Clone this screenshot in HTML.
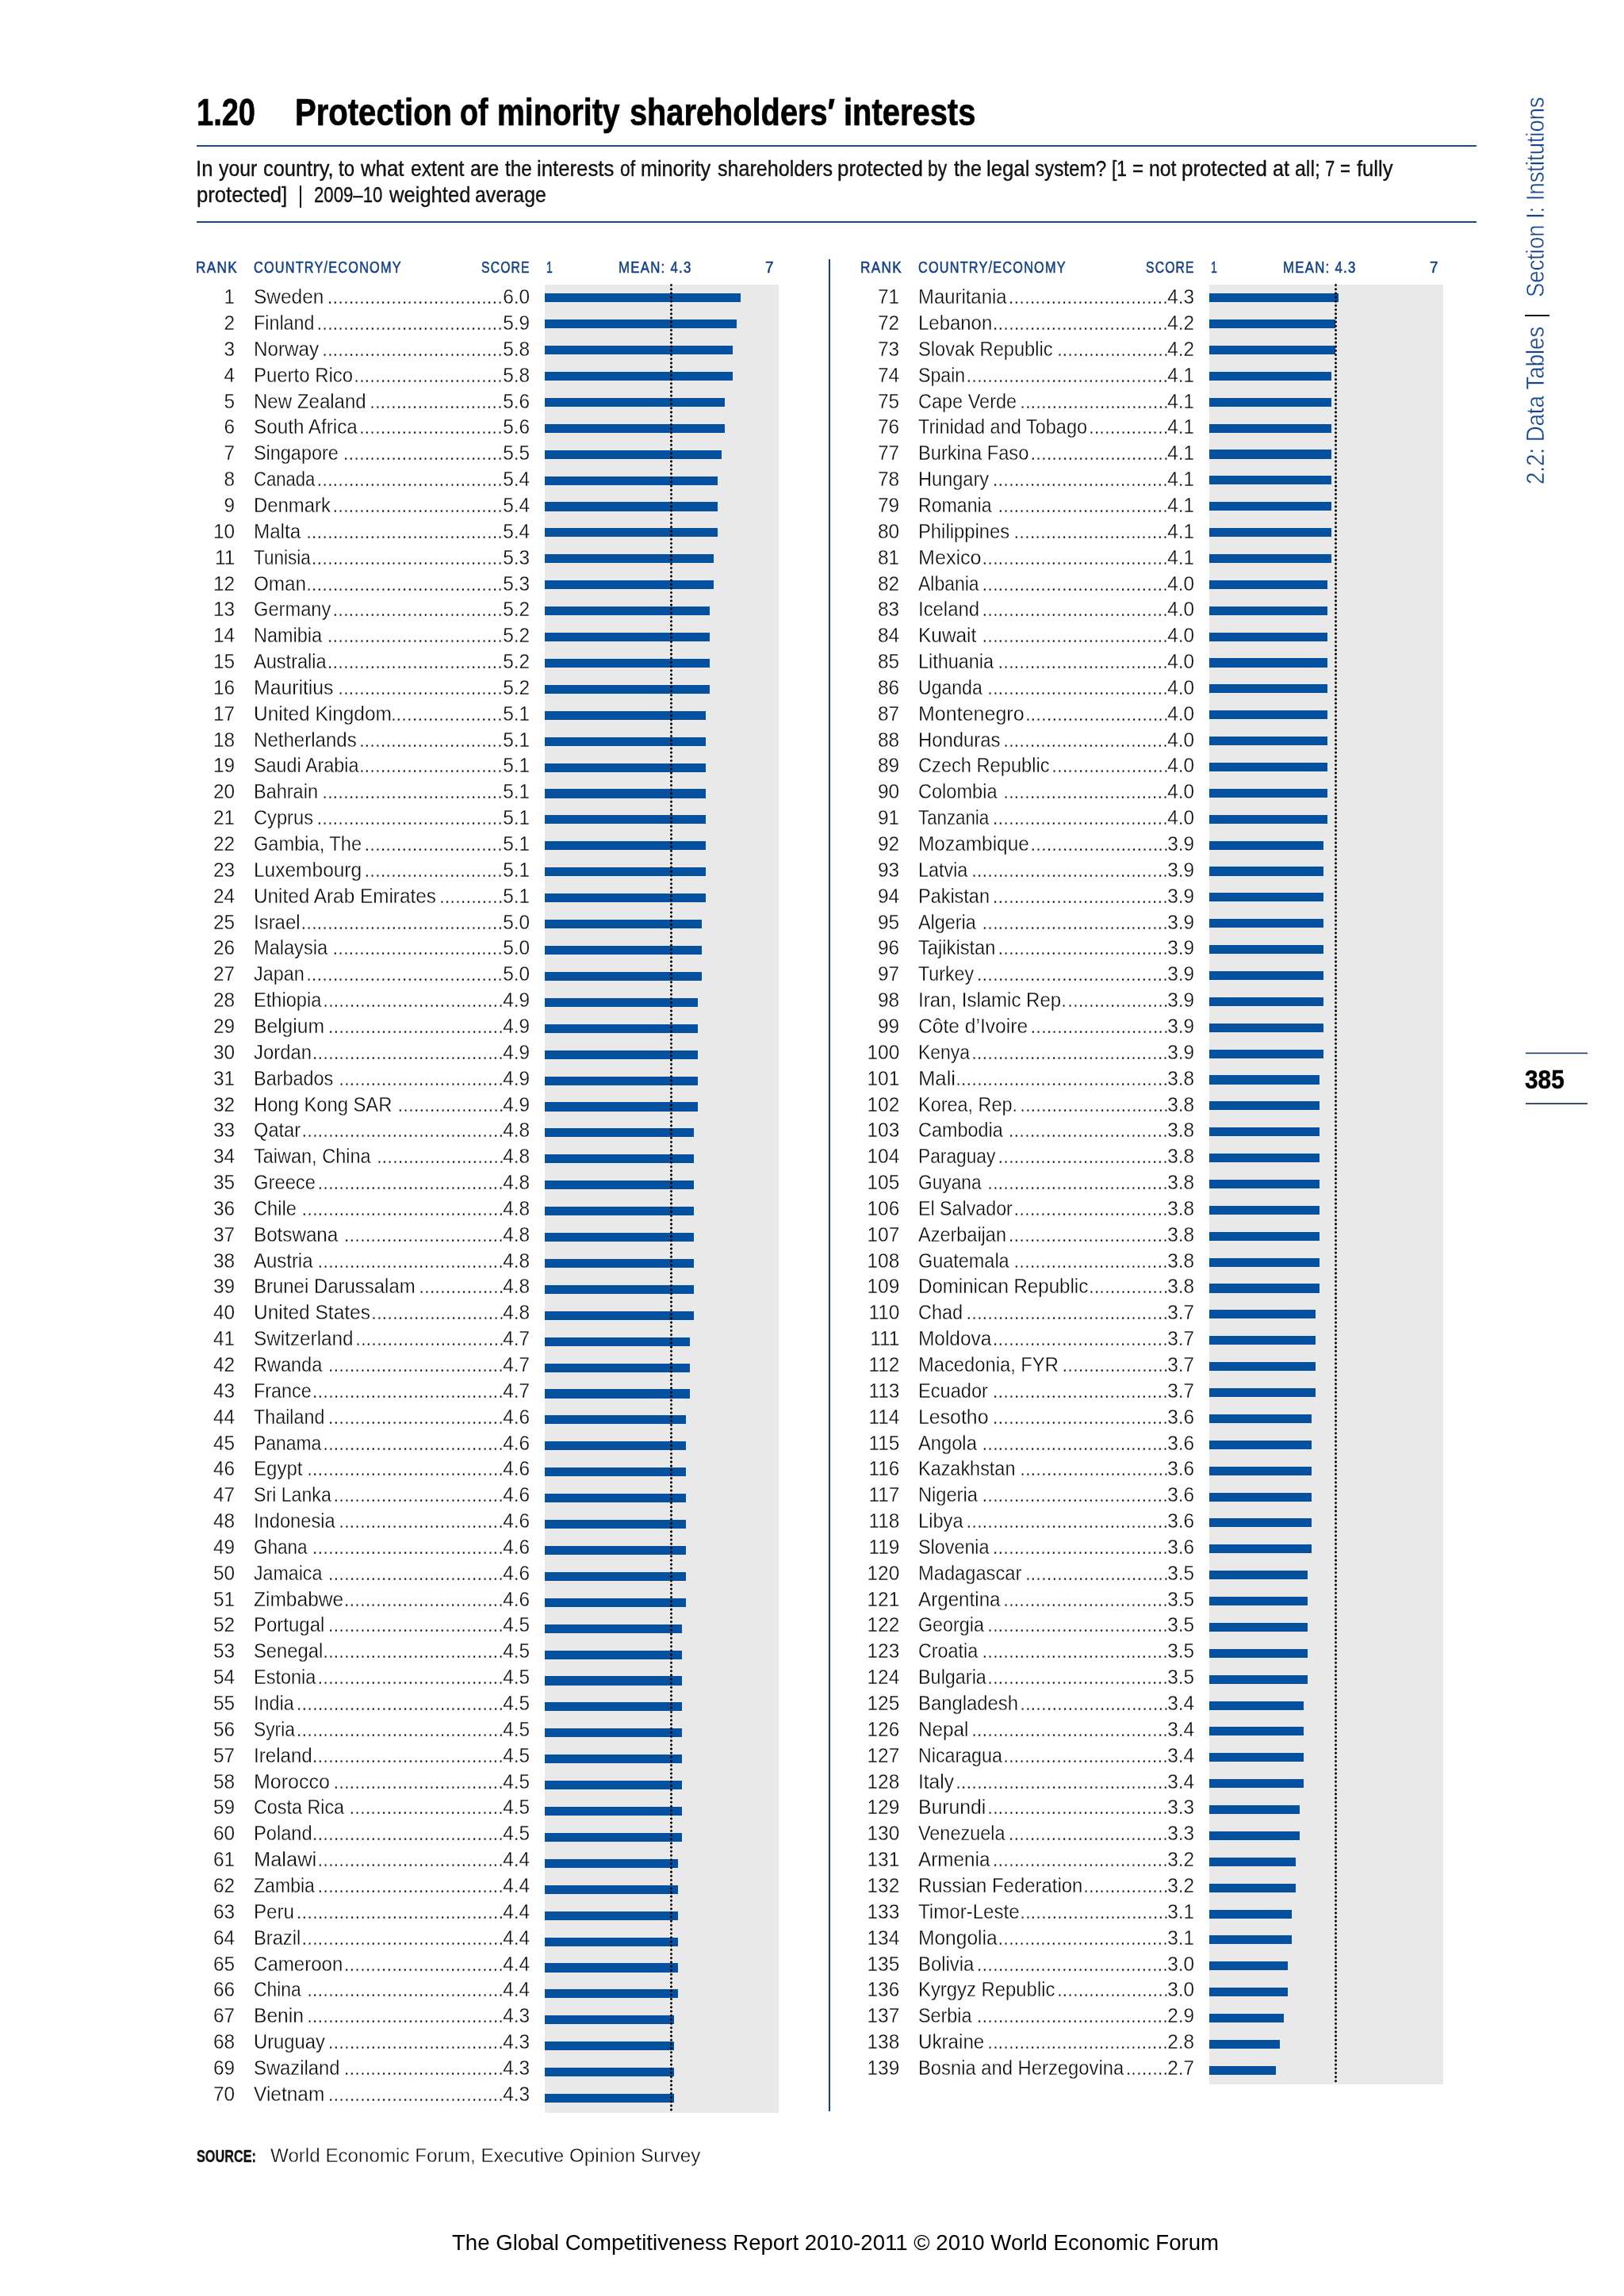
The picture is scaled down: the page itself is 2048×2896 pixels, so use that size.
<!DOCTYPE html>
<html><head><meta charset="utf-8"><title>1.20 Protection of minority shareholders’ interests</title>
<style>
html,body{margin:0;padding:0;}
body{width:2048px;height:2896px;position:relative;background:#fff;overflow:hidden;font-family:"Liberation Sans",sans-serif;}
.t{position:absolute;white-space:nowrap;display:block;}
.b{position:absolute;}
.row{position:absolute;left:0;height:25.3px;font-size:25.3px;line-height:25.3px;color:#0a0a0a;white-space:nowrap;}
.row span{position:absolute;top:0;display:block;}
.bar{position:absolute;height:11.10px;background:#05509f;}
.lt{-webkit-text-stroke:0.3px #fff;}
#w{position:absolute;left:0;top:0;width:2048px;height:2896px;will-change:transform;}
</style></head><body><div id="w">

<span class="t" style="top:118.36px;font-size:47.3px;line-height:47.3px;color:#000;font-weight:bold;left:247.62px;transform:scale(0.8033,1.0);transform-origin:0 84.65%;-webkit-text-stroke:0.7px #000;">1.20</span>
<span class="t" style="top:118.36px;font-size:47.3px;line-height:47.3px;color:#000;font-weight:bold;left:372.10px;transform:scale(0.847,1.0);transform-origin:0 84.65%;-webkit-text-stroke:0.7px #000;">Protection</span>
<span class="t" style="top:118.36px;font-size:47.3px;line-height:47.3px;color:#000;font-weight:bold;left:580.40px;transform:scale(0.7943,1.0);transform-origin:0 84.65%;-webkit-text-stroke:0.7px #000;">of</span>
<span class="t" style="top:118.36px;font-size:47.3px;line-height:47.3px;color:#000;font-weight:bold;left:627.35px;transform:scale(0.8282,1.0);transform-origin:0 84.65%;-webkit-text-stroke:0.7px #000;">minority</span>
<span class="t" style="top:118.36px;font-size:47.3px;line-height:47.3px;color:#000;font-weight:bold;left:793.71px;transform:scale(0.8401,1.0);transform-origin:0 84.65%;-webkit-text-stroke:0.7px #000;">shareholders′</span>
<span class="t" style="top:118.36px;font-size:47.3px;line-height:47.3px;color:#000;font-weight:bold;left:1064.21px;transform:scale(0.8436,1.0);transform-origin:0 84.65%;-webkit-text-stroke:0.7px #000;">interests</span>
<div class="b" style="left:248px;top:183px;width:1614px;height:2px;background:#25498d"></div>
<div class="b" style="left:248px;top:279px;width:1614px;height:2px;background:#21458a"></div>
<span class="t" style="top:199.08px;font-size:27.2px;line-height:27.2px;color:#111;left:247.43px;transform:scale(0.9462,1.0);transform-origin:0 84.65%;-webkit-text-stroke:0.35px #111;">In</span>
<span class="t" style="top:199.08px;font-size:27.2px;line-height:27.2px;color:#111;left:276.23px;transform:scale(0.9115,1.0);transform-origin:0 84.65%;-webkit-text-stroke:0.35px #111;">your</span>
<span class="t" style="top:199.08px;font-size:27.2px;line-height:27.2px;color:#111;left:332.03px;transform:scale(0.9347,1.0);transform-origin:0 84.65%;-webkit-text-stroke:0.35px #111;">country,</span>
<span class="t" style="top:199.08px;font-size:27.2px;line-height:27.2px;color:#111;left:427.09px;transform:scale(0.8861,1.0);transform-origin:0 84.65%;-webkit-text-stroke:0.35px #111;">to</span>
<span class="t" style="top:199.08px;font-size:27.2px;line-height:27.2px;color:#111;left:455.35px;transform:scale(0.9484,1.0);transform-origin:0 84.65%;-webkit-text-stroke:0.35px #111;">what</span>
<span class="t" style="top:199.08px;font-size:27.2px;line-height:27.2px;color:#111;left:517.76px;transform:scale(0.9085,1.0);transform-origin:0 84.65%;-webkit-text-stroke:0.35px #111;">extent</span>
<span class="t" style="top:199.08px;font-size:27.2px;line-height:27.2px;color:#111;left:592.94px;transform:scale(0.9245,1.0);transform-origin:0 84.65%;-webkit-text-stroke:0.35px #111;">are</span>
<span class="t" style="top:199.08px;font-size:27.2px;line-height:27.2px;color:#111;left:636.88px;transform:scale(0.8984,1.0);transform-origin:0 84.65%;-webkit-text-stroke:0.35px #111;">the</span>
<span class="t" style="top:199.08px;font-size:27.2px;line-height:27.2px;color:#111;left:677.18px;transform:scale(0.9471,1.0);transform-origin:0 84.65%;-webkit-text-stroke:0.35px #111;">interests</span>
<span class="t" style="top:199.08px;font-size:27.2px;line-height:27.2px;color:#111;left:781.84px;transform:scale(0.837,1.0);transform-origin:0 84.65%;-webkit-text-stroke:0.35px #111;">of</span>
<span class="t" style="top:199.08px;font-size:27.2px;line-height:27.2px;color:#111;left:808.31px;transform:scale(0.9269,1.0);transform-origin:0 84.65%;-webkit-text-stroke:0.35px #111;">minority</span>
<span class="t" style="top:199.08px;font-size:27.2px;line-height:27.2px;color:#111;left:904.90px;transform:scale(0.9225,1.0);transform-origin:0 84.65%;-webkit-text-stroke:0.35px #111;">shareholders</span>
<span class="t" style="top:199.08px;font-size:27.2px;line-height:27.2px;color:#111;left:1056.47px;transform:scale(0.951,1.0);transform-origin:0 84.65%;-webkit-text-stroke:0.35px #111;">protected</span>
<span class="t" style="top:199.08px;font-size:27.2px;line-height:27.2px;color:#111;left:1170.27px;transform:scale(0.8393,1.0);transform-origin:0 84.65%;-webkit-text-stroke:0.35px #111;">by</span>
<span class="t" style="top:199.08px;font-size:27.2px;line-height:27.2px;color:#111;left:1203.07px;transform:scale(0.926,1.0);transform-origin:0 84.65%;-webkit-text-stroke:0.35px #111;">the</span>
<span class="t" style="top:199.08px;font-size:27.2px;line-height:27.2px;color:#111;left:1244.38px;transform:scale(0.947,1.0);transform-origin:0 84.65%;-webkit-text-stroke:0.35px #111;">legal</span>
<span class="t" style="top:199.08px;font-size:27.2px;line-height:27.2px;color:#111;left:1305.42px;transform:scale(0.8912,1.0);transform-origin:0 84.65%;-webkit-text-stroke:0.35px #111;">system?</span>
<span class="t" style="top:199.08px;font-size:27.2px;line-height:27.2px;color:#111;left:1402.25px;transform:scale(0.8425,1.0);transform-origin:0 84.65%;-webkit-text-stroke:0.35px #111;">[1</span>
<span class="t" style="top:199.08px;font-size:27.2px;line-height:27.2px;color:#111;left:1428.24px;transform:scale(0.8869,1.0);transform-origin:0 84.65%;-webkit-text-stroke:0.35px #111;">=</span>
<span class="t" style="top:199.08px;font-size:27.2px;line-height:27.2px;color:#111;left:1448.64px;transform:scale(0.9114,1.0);transform-origin:0 84.65%;-webkit-text-stroke:0.35px #111;">not</span>
<span class="t" style="top:199.08px;font-size:27.2px;line-height:27.2px;color:#111;left:1490.27px;transform:scale(0.951,1.0);transform-origin:0 84.65%;-webkit-text-stroke:0.35px #111;">protected</span>
<span class="t" style="top:199.08px;font-size:27.2px;line-height:27.2px;color:#111;left:1604.55px;transform:scale(0.9226,1.0);transform-origin:0 84.65%;-webkit-text-stroke:0.35px #111;">at</span>
<span class="t" style="top:199.08px;font-size:27.2px;line-height:27.2px;color:#111;left:1633.35px;transform:scale(0.9175,1.0);transform-origin:0 84.65%;-webkit-text-stroke:0.35px #111;">all;</span>
<span class="t" style="top:199.08px;font-size:27.2px;line-height:27.2px;color:#111;left:1671.04px;transform:scale(0.8161,1.0);transform-origin:0 84.65%;-webkit-text-stroke:0.35px #111;">7</span>
<span class="t" style="top:199.08px;font-size:27.2px;line-height:27.2px;color:#111;left:1690.24px;transform:scale(0.8187,1.0);transform-origin:0 84.65%;-webkit-text-stroke:0.35px #111;">=</span>
<span class="t" style="top:199.08px;font-size:27.2px;line-height:27.2px;color:#111;left:1710.87px;transform:scale(0.9415,1.0);transform-origin:0 84.65%;-webkit-text-stroke:0.35px #111;">fully</span>
<span class="t" style="top:231.58px;font-size:27.2px;line-height:27.2px;color:#111;left:248.13px;transform:scale(0.9443,1.0);transform-origin:0 84.65%;-webkit-text-stroke:0.35px #111;">protected]</span>
<div class="b" style="left:377.9px;top:234.2px;width:2.2px;height:27.6px;background:#111"></div>
<span class="t" style="top:231.58px;font-size:27.2px;line-height:27.2px;color:#111;left:395.94px;transform:scale(0.8155,1.0);transform-origin:0 84.65%;-webkit-text-stroke:0.35px #111;">2009–10</span>
<span class="t" style="top:231.58px;font-size:27.2px;line-height:27.2px;color:#111;left:490.55px;transform:scale(0.9408,1.0);transform-origin:0 84.65%;-webkit-text-stroke:0.35px #111;">weighted</span>
<span class="t" style="top:231.58px;font-size:27.2px;line-height:27.2px;color:#111;left:599.36px;transform:scale(0.9144,1.0);transform-origin:0 84.65%;-webkit-text-stroke:0.35px #111;">average</span>
<span class="t" style="top:326.57px;font-size:20px;line-height:20px;color:#15408a;letter-spacing:1.5px;left:247.27px;transform:scale(0.8608,1.0);transform-origin:0 84.65%;-webkit-text-stroke:0.55px #15408a;">RANK</span>
<span class="t" style="top:326.57px;font-size:20px;line-height:20px;color:#15408a;letter-spacing:1.5px;left:320.04px;transform:scale(0.8123,1.0);transform-origin:0 84.65%;-webkit-text-stroke:0.55px #15408a;">COUNTRY/ECONOMY</span>
<span class="t" style="top:326.57px;font-size:20px;line-height:20px;color:#15408a;letter-spacing:1.5px;left:607.14px;transform:scale(0.7851,1.0);transform-origin:0 84.65%;-webkit-text-stroke:0.55px #15408a;">SCORE</span>
<span class="t" style="top:326.57px;font-size:20px;line-height:20px;color:#15408a;left:689.30px;transform:scale(0.7011,1.0);transform-origin:0 84.65%;-webkit-text-stroke:0.55px #15408a;">1</span>
<span class="t" style="top:326.57px;font-size:20px;line-height:20px;color:#15408a;letter-spacing:1.5px;left:780.31px;transform:scale(0.8401,1.0);transform-origin:0 84.65%;-webkit-text-stroke:0.55px #15408a;">MEAN:&nbsp;4.3</span>
<span class="t" style="top:326.57px;font-size:20px;line-height:20px;color:#15408a;left:964.90px;transform:scale(0.9451,1.0);transform-origin:0 84.65%;-webkit-text-stroke:0.55px #15408a;">7</span>
<div class="b" style="left:687.00px;top:359.2px;width:294.6px;height:2305.40px;background:#eae9ea"></div>
<div class="bar" style="left:687.00px;top:370.20px;width:247.25px"></div>
<div class="bar" style="left:687.00px;top:403.11px;width:242.31px"></div>
<div class="bar" style="left:687.00px;top:436.02px;width:237.36px"></div>
<div class="bar" style="left:687.00px;top:468.93px;width:237.36px"></div>
<div class="bar" style="left:687.00px;top:501.84px;width:227.47px"></div>
<div class="bar" style="left:687.00px;top:534.75px;width:227.47px"></div>
<div class="bar" style="left:687.00px;top:567.66px;width:222.53px"></div>
<div class="bar" style="left:687.00px;top:600.57px;width:217.58px"></div>
<div class="bar" style="left:687.00px;top:633.48px;width:217.58px"></div>
<div class="bar" style="left:687.00px;top:666.39px;width:217.58px"></div>
<div class="bar" style="left:687.00px;top:699.30px;width:212.63px"></div>
<div class="bar" style="left:687.00px;top:732.21px;width:212.63px"></div>
<div class="bar" style="left:687.00px;top:765.12px;width:207.69px"></div>
<div class="bar" style="left:687.00px;top:798.03px;width:207.69px"></div>
<div class="bar" style="left:687.00px;top:830.94px;width:207.69px"></div>
<div class="bar" style="left:687.00px;top:863.85px;width:207.69px"></div>
<div class="bar" style="left:687.00px;top:896.76px;width:202.75px"></div>
<div class="bar" style="left:687.00px;top:929.67px;width:202.75px"></div>
<div class="bar" style="left:687.00px;top:962.58px;width:202.75px"></div>
<div class="bar" style="left:687.00px;top:995.49px;width:202.75px"></div>
<div class="bar" style="left:687.00px;top:1028.40px;width:202.75px"></div>
<div class="bar" style="left:687.00px;top:1061.31px;width:202.75px"></div>
<div class="bar" style="left:687.00px;top:1094.22px;width:202.75px"></div>
<div class="bar" style="left:687.00px;top:1127.13px;width:202.75px"></div>
<div class="bar" style="left:687.00px;top:1160.04px;width:197.80px"></div>
<div class="bar" style="left:687.00px;top:1192.95px;width:197.80px"></div>
<div class="bar" style="left:687.00px;top:1225.86px;width:197.80px"></div>
<div class="bar" style="left:687.00px;top:1258.77px;width:192.86px"></div>
<div class="bar" style="left:687.00px;top:1291.68px;width:192.86px"></div>
<div class="bar" style="left:687.00px;top:1324.59px;width:192.86px"></div>
<div class="bar" style="left:687.00px;top:1357.50px;width:192.86px"></div>
<div class="bar" style="left:687.00px;top:1390.41px;width:192.86px"></div>
<div class="bar" style="left:687.00px;top:1423.32px;width:187.91px"></div>
<div class="bar" style="left:687.00px;top:1456.23px;width:187.91px"></div>
<div class="bar" style="left:687.00px;top:1489.14px;width:187.91px"></div>
<div class="bar" style="left:687.00px;top:1522.05px;width:187.91px"></div>
<div class="bar" style="left:687.00px;top:1554.96px;width:187.91px"></div>
<div class="bar" style="left:687.00px;top:1587.87px;width:187.91px"></div>
<div class="bar" style="left:687.00px;top:1620.78px;width:187.91px"></div>
<div class="bar" style="left:687.00px;top:1653.69px;width:187.91px"></div>
<div class="bar" style="left:687.00px;top:1686.60px;width:182.97px"></div>
<div class="bar" style="left:687.00px;top:1719.51px;width:182.97px"></div>
<div class="bar" style="left:687.00px;top:1752.42px;width:182.97px"></div>
<div class="bar" style="left:687.00px;top:1785.33px;width:178.02px"></div>
<div class="bar" style="left:687.00px;top:1818.24px;width:178.02px"></div>
<div class="bar" style="left:687.00px;top:1851.15px;width:178.02px"></div>
<div class="bar" style="left:687.00px;top:1884.06px;width:178.02px"></div>
<div class="bar" style="left:687.00px;top:1916.97px;width:178.02px"></div>
<div class="bar" style="left:687.00px;top:1949.88px;width:178.02px"></div>
<div class="bar" style="left:687.00px;top:1982.79px;width:178.02px"></div>
<div class="bar" style="left:687.00px;top:2015.70px;width:178.02px"></div>
<div class="bar" style="left:687.00px;top:2048.61px;width:173.08px"></div>
<div class="bar" style="left:687.00px;top:2081.52px;width:173.08px"></div>
<div class="bar" style="left:687.00px;top:2114.43px;width:173.08px"></div>
<div class="bar" style="left:687.00px;top:2147.34px;width:173.08px"></div>
<div class="bar" style="left:687.00px;top:2180.25px;width:173.08px"></div>
<div class="bar" style="left:687.00px;top:2213.16px;width:173.08px"></div>
<div class="bar" style="left:687.00px;top:2246.07px;width:173.08px"></div>
<div class="bar" style="left:687.00px;top:2278.98px;width:173.08px"></div>
<div class="bar" style="left:687.00px;top:2311.89px;width:173.08px"></div>
<div class="bar" style="left:687.00px;top:2344.80px;width:168.13px"></div>
<div class="bar" style="left:687.00px;top:2377.71px;width:168.13px"></div>
<div class="bar" style="left:687.00px;top:2410.62px;width:168.13px"></div>
<div class="bar" style="left:687.00px;top:2443.53px;width:168.13px"></div>
<div class="bar" style="left:687.00px;top:2476.44px;width:168.13px"></div>
<div class="bar" style="left:687.00px;top:2509.35px;width:168.13px"></div>
<div class="bar" style="left:687.00px;top:2542.26px;width:163.19px"></div>
<div class="bar" style="left:687.00px;top:2575.17px;width:163.19px"></div>
<div class="bar" style="left:687.00px;top:2608.08px;width:163.19px"></div>
<div class="bar" style="left:687.00px;top:2640.99px;width:163.19px"></div>
<div class="b" style="left:844.70px;top:357.25px;width:3px;height:2305.40px;background:radial-gradient(circle at 50% 50%,#000 0,#000 1.15px,rgba(0,0,0,0) 1.7px) 0 0/3px 5.18px repeat-y"></div>
<div class="row lt" style="top:362.18px"><span style="right:-296.00px;transform:scaleX(0.965);transform-origin:100% 0">1</span><span style="left:320.03px;transform:scaleX(0.9661);transform-origin:0 0">Sweden</span><span style="right:-633.90px;transform:scaleX(0.9532);transform-origin:100% 0">.................................</span><span style="right:-668.10px;transform:scaleX(0.965);transform-origin:100% 0">6.0</span></div>
<div class="row lt" style="top:395.03px"><span style="right:-296.00px;transform:scaleX(0.965);transform-origin:100% 0">2</span><span style="left:320.10px;transform:scaleX(0.9220);transform-origin:0 0">Finland</span><span style="right:-633.90px;transform:scaleX(0.9532);transform-origin:100% 0">...................................</span><span style="right:-668.10px;transform:scaleX(0.965);transform-origin:100% 0">5.9</span></div>
<div class="row lt" style="top:427.88px"><span style="right:-296.00px;transform:scaleX(0.965);transform-origin:100% 0">3</span><span style="left:320.03px;transform:scaleX(0.9569);transform-origin:0 0">Norway</span><span style="right:-633.90px;transform:scaleX(0.9532);transform-origin:100% 0">..................................</span><span style="right:-668.10px;transform:scaleX(0.965);transform-origin:100% 0">5.8</span></div>
<div class="row lt" style="top:460.73px"><span style="right:-296.00px;transform:scaleX(0.965);transform-origin:100% 0">4</span><span style="left:320.05px;transform:scaleX(0.9464);transform-origin:0 0">Puerto Rico</span><span style="right:-633.90px;transform:scaleX(0.9532);transform-origin:100% 0">............................</span><span style="right:-668.10px;transform:scaleX(0.965);transform-origin:100% 0">5.8</span></div>
<div class="row lt" style="top:493.58px"><span style="right:-296.00px;transform:scaleX(0.965);transform-origin:100% 0">5</span><span style="left:320.05px;transform:scaleX(0.9510);transform-origin:0 0">New Zealand</span><span style="right:-633.90px;transform:scaleX(0.9532);transform-origin:100% 0">.........................</span><span style="right:-668.10px;transform:scaleX(0.965);transform-origin:100% 0">5.6</span></div>
<div class="row lt" style="top:526.43px"><span style="right:-296.00px;transform:scaleX(0.965);transform-origin:100% 0">6</span><span style="left:320.04px;transform:scaleX(0.9589);transform-origin:0 0">South Africa</span><span style="right:-633.90px;transform:scaleX(0.9532);transform-origin:100% 0">...........................</span><span style="right:-668.10px;transform:scaleX(0.965);transform-origin:100% 0">5.6</span></div>
<div class="row lt" style="top:559.28px"><span style="right:-296.00px;transform:scaleX(0.965);transform-origin:100% 0">7</span><span style="left:320.08px;transform:scaleX(0.9255);transform-origin:0 0">Singapore</span><span style="right:-633.90px;transform:scaleX(0.9532);transform-origin:100% 0">..............................</span><span style="right:-668.10px;transform:scaleX(0.965);transform-origin:100% 0">5.5</span></div>
<div class="row lt" style="top:592.13px"><span style="right:-296.00px;transform:scaleX(0.965);transform-origin:100% 0">8</span><span style="left:320.15px;transform:scaleX(0.8724);transform-origin:0 0">Canada</span><span style="right:-633.90px;transform:scaleX(0.9532);transform-origin:100% 0">...................................</span><span style="right:-668.10px;transform:scaleX(0.965);transform-origin:100% 0">5.4</span></div>
<div class="row lt" style="top:624.98px"><span style="right:-296.00px;transform:scaleX(0.965);transform-origin:100% 0">9</span><span style="left:320.06px;transform:scaleX(0.9439);transform-origin:0 0">Denmark</span><span style="right:-633.90px;transform:scaleX(0.9532);transform-origin:100% 0">................................</span><span style="right:-668.10px;transform:scaleX(0.965);transform-origin:100% 0">5.4</span></div>
<div class="row lt" style="top:657.82px"><span style="right:-296.00px;transform:scaleX(0.965);transform-origin:100% 0">10</span><span style="left:320.03px;transform:scaleX(0.9565);transform-origin:0 0">Malta</span><span style="right:-633.90px;transform:scaleX(0.9532);transform-origin:100% 0">.....................................</span><span style="right:-668.10px;transform:scaleX(0.965);transform-origin:100% 0">5.4</span></div>
<div class="row lt" style="top:690.67px"><span style="right:-296.00px;transform:scaleX(0.965);transform-origin:100% 0">11</span><span style="left:320.08px;transform:scaleX(0.8900);transform-origin:0 0">Tunisia</span><span style="right:-633.90px;transform:scaleX(0.9532);transform-origin:100% 0">....................................</span><span style="right:-668.10px;transform:scaleX(0.965);transform-origin:100% 0">5.3</span></div>
<div class="row lt" style="top:723.52px"><span style="right:-296.00px;transform:scaleX(0.965);transform-origin:100% 0">12</span><span style="left:320.04px;transform:scaleX(0.9582);transform-origin:0 0">Oman</span><span style="right:-633.90px;transform:scaleX(0.9532);transform-origin:100% 0">.....................................</span><span style="right:-668.10px;transform:scaleX(0.965);transform-origin:100% 0">5.3</span></div>
<div class="row lt" style="top:756.37px"><span style="right:-296.00px;transform:scaleX(0.965);transform-origin:100% 0">13</span><span style="left:320.07px;transform:scaleX(0.9351);transform-origin:0 0">Germany</span><span style="right:-633.90px;transform:scaleX(0.9532);transform-origin:100% 0">................................</span><span style="right:-668.10px;transform:scaleX(0.965);transform-origin:100% 0">5.2</span></div>
<div class="row lt" style="top:789.22px"><span style="right:-296.00px;transform:scaleX(0.965);transform-origin:100% 0">14</span><span style="left:320.09px;transform:scaleX(0.9265);transform-origin:0 0">Namibia</span><span style="right:-633.90px;transform:scaleX(0.9532);transform-origin:100% 0">.................................</span><span style="right:-668.10px;transform:scaleX(0.965);transform-origin:100% 0">5.2</span></div>
<div class="row lt" style="top:822.07px"><span style="right:-296.00px;transform:scaleX(0.965);transform-origin:100% 0">15</span><span style="left:320.05px;transform:scaleX(0.9312);transform-origin:0 0">Australia</span><span style="right:-633.90px;transform:scaleX(0.9532);transform-origin:100% 0">.................................</span><span style="right:-668.10px;transform:scaleX(0.965);transform-origin:100% 0">5.2</span></div>
<div class="row lt" style="top:854.92px"><span style="right:-296.00px;transform:scaleX(0.965);transform-origin:100% 0">16</span><span style="left:319.99px;transform:scaleX(0.9794);transform-origin:0 0">Mauritius</span><span style="right:-633.90px;transform:scaleX(0.9532);transform-origin:100% 0">...............................</span><span style="right:-668.10px;transform:scaleX(0.965);transform-origin:100% 0">5.2</span></div>
<div class="row lt" style="top:887.77px"><span style="right:-296.00px;transform:scaleX(0.965);transform-origin:100% 0">17</span><span style="left:320.02px;transform:scaleX(0.9659);transform-origin:0 0">United Kingdom</span><span style="right:-633.90px;transform:scaleX(0.9532);transform-origin:100% 0">.....................</span><span style="right:-668.10px;transform:scaleX(0.965);transform-origin:100% 0">5.1</span></div>
<div class="row lt" style="top:920.62px"><span style="right:-296.00px;transform:scaleX(0.965);transform-origin:100% 0">18</span><span style="left:320.04px;transform:scaleX(0.9511);transform-origin:0 0">Netherlands</span><span style="right:-633.90px;transform:scaleX(0.9532);transform-origin:100% 0">...........................</span><span style="right:-668.10px;transform:scaleX(0.965);transform-origin:100% 0">5.1</span></div>
<div class="row lt" style="top:953.47px"><span style="right:-296.00px;transform:scaleX(0.965);transform-origin:100% 0">19</span><span style="left:320.08px;transform:scaleX(0.9231);transform-origin:0 0">Saudi Arabia</span><span style="right:-633.90px;transform:scaleX(0.9532);transform-origin:100% 0">...........................</span><span style="right:-668.10px;transform:scaleX(0.965);transform-origin:100% 0">5.1</span></div>
<div class="row lt" style="top:986.31px"><span style="right:-296.00px;transform:scaleX(0.965);transform-origin:100% 0">20</span><span style="left:320.09px;transform:scaleX(0.9286);transform-origin:0 0">Bahrain</span><span style="right:-633.90px;transform:scaleX(0.9532);transform-origin:100% 0">..................................</span><span style="right:-668.10px;transform:scaleX(0.965);transform-origin:100% 0">5.1</span></div>
<div class="row lt" style="top:1019.16px"><span style="right:-296.00px;transform:scaleX(0.965);transform-origin:100% 0">21</span><span style="left:320.07px;transform:scaleX(0.9359);transform-origin:0 0">Cyprus</span><span style="right:-633.90px;transform:scaleX(0.9532);transform-origin:100% 0">...................................</span><span style="right:-668.10px;transform:scaleX(0.965);transform-origin:100% 0">5.1</span></div>
<div class="row lt" style="top:1052.01px"><span style="right:-296.00px;transform:scaleX(0.965);transform-origin:100% 0">22</span><span style="left:320.07px;transform:scaleX(0.9332);transform-origin:0 0">Gambia, The</span><span style="right:-633.90px;transform:scaleX(0.9532);transform-origin:100% 0">..........................</span><span style="right:-668.10px;transform:scaleX(0.965);transform-origin:100% 0">5.1</span></div>
<div class="row lt" style="top:1084.86px"><span style="right:-296.00px;transform:scaleX(0.965);transform-origin:100% 0">23</span><span style="left:320.01px;transform:scaleX(0.9681);transform-origin:0 0">Luxembourg</span><span style="right:-633.90px;transform:scaleX(0.9532);transform-origin:100% 0">..........................</span><span style="right:-668.10px;transform:scaleX(0.965);transform-origin:100% 0">5.1</span></div>
<div class="row lt" style="top:1117.71px"><span style="right:-296.00px;transform:scaleX(0.965);transform-origin:100% 0">24</span><span style="left:320.02px;transform:scaleX(0.9621);transform-origin:0 0">United Arab Emirates</span><span style="right:-633.90px;transform:scaleX(0.9532);transform-origin:100% 0">............</span><span style="right:-668.10px;transform:scaleX(0.965);transform-origin:100% 0">5.1</span></div>
<div class="row lt" style="top:1150.56px"><span style="right:-296.00px;transform:scaleX(0.965);transform-origin:100% 0">25</span><span style="left:320.05px;transform:scaleX(0.9474);transform-origin:0 0">Israel</span><span style="right:-633.90px;transform:scaleX(0.9532);transform-origin:100% 0">......................................</span><span style="right:-668.10px;transform:scaleX(0.965);transform-origin:100% 0">5.0</span></div>
<div class="row lt" style="top:1183.41px"><span style="right:-296.00px;transform:scaleX(0.965);transform-origin:100% 0">26</span><span style="left:320.08px;transform:scaleX(0.9319);transform-origin:0 0">Malaysia</span><span style="right:-633.90px;transform:scaleX(0.9532);transform-origin:100% 0">................................</span><span style="right:-668.10px;transform:scaleX(0.965);transform-origin:100% 0">5.0</span></div>
<div class="row lt" style="top:1216.26px"><span style="right:-296.00px;transform:scaleX(0.965);transform-origin:100% 0">27</span><span style="left:320.06px;transform:scaleX(0.9264);transform-origin:0 0">Japan</span><span style="right:-633.90px;transform:scaleX(0.9532);transform-origin:100% 0">.....................................</span><span style="right:-668.10px;transform:scaleX(0.965);transform-origin:100% 0">5.0</span></div>
<div class="row lt" style="top:1249.11px"><span style="right:-296.00px;transform:scaleX(0.965);transform-origin:100% 0">28</span><span style="left:320.08px;transform:scaleX(0.9329);transform-origin:0 0">Ethiopia</span><span style="right:-635.30px;transform:scaleX(0.9532);transform-origin:100% 0">..................................</span><span style="right:-668.10px;transform:scaleX(0.965);transform-origin:100% 0">4.9</span></div>
<div class="row lt" style="top:1281.96px"><span style="right:-296.00px;transform:scaleX(0.965);transform-origin:100% 0">29</span><span style="left:320.00px;transform:scaleX(0.9742);transform-origin:0 0">Belgium</span><span style="right:-635.30px;transform:scaleX(0.9532);transform-origin:100% 0">.................................</span><span style="right:-668.10px;transform:scaleX(0.965);transform-origin:100% 0">4.9</span></div>
<div class="row lt" style="top:1314.80px"><span style="right:-296.00px;transform:scaleX(0.965);transform-origin:100% 0">30</span><span style="left:320.05px;transform:scaleX(0.9432);transform-origin:0 0">Jordan</span><span style="right:-635.30px;transform:scaleX(0.9532);transform-origin:100% 0">....................................</span><span style="right:-668.10px;transform:scaleX(0.965);transform-origin:100% 0">4.9</span></div>
<div class="row lt" style="top:1347.65px"><span style="right:-296.00px;transform:scaleX(0.965);transform-origin:100% 0">31</span><span style="left:320.09px;transform:scaleX(0.9265);transform-origin:0 0">Barbados</span><span style="right:-635.30px;transform:scaleX(0.9532);transform-origin:100% 0">...............................</span><span style="right:-668.10px;transform:scaleX(0.965);transform-origin:100% 0">4.9</span></div>
<div class="row lt" style="top:1380.50px"><span style="right:-296.00px;transform:scaleX(0.965);transform-origin:100% 0">32</span><span style="left:320.07px;transform:scaleX(0.9392);transform-origin:0 0">Hong Kong SAR</span><span style="right:-635.30px;transform:scaleX(0.9532);transform-origin:100% 0">....................</span><span style="right:-668.10px;transform:scaleX(0.965);transform-origin:100% 0">4.9</span></div>
<div class="row lt" style="top:1413.35px"><span style="right:-296.00px;transform:scaleX(0.965);transform-origin:100% 0">33</span><span style="left:320.07px;transform:scaleX(0.9342);transform-origin:0 0">Qatar</span><span style="right:-635.30px;transform:scaleX(0.9532);transform-origin:100% 0">......................................</span><span style="right:-668.10px;transform:scaleX(0.965);transform-origin:100% 0">4.8</span></div>
<div class="row lt" style="top:1446.20px"><span style="right:-296.00px;transform:scaleX(0.965);transform-origin:100% 0">34</span><span style="left:320.06px;transform:scaleX(0.9286);transform-origin:0 0">Taiwan, China</span><span style="right:-635.30px;transform:scaleX(0.9532);transform-origin:100% 0">........................</span><span style="right:-668.10px;transform:scaleX(0.965);transform-origin:100% 0">4.8</span></div>
<div class="row lt" style="top:1479.05px"><span style="right:-296.00px;transform:scaleX(0.965);transform-origin:100% 0">35</span><span style="left:320.06px;transform:scaleX(0.9401);transform-origin:0 0">Greece</span><span style="right:-635.30px;transform:scaleX(0.9532);transform-origin:100% 0">...................................</span><span style="right:-668.10px;transform:scaleX(0.965);transform-origin:100% 0">4.8</span></div>
<div class="row lt" style="top:1511.90px"><span style="right:-296.00px;transform:scaleX(0.965);transform-origin:100% 0">36</span><span style="left:320.07px;transform:scaleX(0.9343);transform-origin:0 0">Chile</span><span style="right:-635.30px;transform:scaleX(0.9532);transform-origin:100% 0">......................................</span><span style="right:-668.10px;transform:scaleX(0.965);transform-origin:100% 0">4.8</span></div>
<div class="row lt" style="top:1544.75px"><span style="right:-296.00px;transform:scaleX(0.965);transform-origin:100% 0">37</span><span style="left:320.03px;transform:scaleX(0.9568);transform-origin:0 0">Botswana</span><span style="right:-635.30px;transform:scaleX(0.9532);transform-origin:100% 0">..............................</span><span style="right:-668.10px;transform:scaleX(0.965);transform-origin:100% 0">4.8</span></div>
<div class="row lt" style="top:1577.60px"><span style="right:-296.00px;transform:scaleX(0.965);transform-origin:100% 0">38</span><span style="left:320.05px;transform:scaleX(0.9462);transform-origin:0 0">Austria</span><span style="right:-635.30px;transform:scaleX(0.9532);transform-origin:100% 0">...................................</span><span style="right:-668.10px;transform:scaleX(0.965);transform-origin:100% 0">4.8</span></div>
<div class="row lt" style="top:1610.45px"><span style="right:-296.00px;transform:scaleX(0.965);transform-origin:100% 0">39</span><span style="left:320.05px;transform:scaleX(0.9467);transform-origin:0 0">Brunei Darussalam</span><span style="right:-635.30px;transform:scaleX(0.9532);transform-origin:100% 0">................</span><span style="right:-668.10px;transform:scaleX(0.965);transform-origin:100% 0">4.8</span></div>
<div class="row lt" style="top:1643.29px"><span style="right:-296.00px;transform:scaleX(0.965);transform-origin:100% 0">40</span><span style="left:320.01px;transform:scaleX(0.9672);transform-origin:0 0">United States</span><span style="right:-635.30px;transform:scaleX(0.9532);transform-origin:100% 0">.........................</span><span style="right:-668.10px;transform:scaleX(0.965);transform-origin:100% 0">4.8</span></div>
<div class="row lt" style="top:1676.14px"><span style="right:-296.00px;transform:scaleX(0.965);transform-origin:100% 0">41</span><span style="left:320.04px;transform:scaleX(0.9606);transform-origin:0 0">Switzerland</span><span style="right:-635.30px;transform:scaleX(0.9532);transform-origin:100% 0">............................</span><span style="right:-668.10px;transform:scaleX(0.965);transform-origin:100% 0">4.7</span></div>
<div class="row lt" style="top:1708.99px"><span style="right:-296.00px;transform:scaleX(0.965);transform-origin:100% 0">42</span><span style="left:320.09px;transform:scaleX(0.9296);transform-origin:0 0">Rwanda</span><span style="right:-635.30px;transform:scaleX(0.9532);transform-origin:100% 0">.................................</span><span style="right:-668.10px;transform:scaleX(0.965);transform-origin:100% 0">4.7</span></div>
<div class="row lt" style="top:1741.84px"><span style="right:-296.00px;transform:scaleX(0.965);transform-origin:100% 0">43</span><span style="left:320.10px;transform:scaleX(0.9246);transform-origin:0 0">France</span><span style="right:-635.30px;transform:scaleX(0.9532);transform-origin:100% 0">....................................</span><span style="right:-668.10px;transform:scaleX(0.965);transform-origin:100% 0">4.7</span></div>
<div class="row lt" style="top:1774.69px"><span style="right:-296.00px;transform:scaleX(0.965);transform-origin:100% 0">44</span><span style="left:320.06px;transform:scaleX(0.9209);transform-origin:0 0">Thailand</span><span style="right:-635.30px;transform:scaleX(0.9532);transform-origin:100% 0">.................................</span><span style="right:-668.10px;transform:scaleX(0.965);transform-origin:100% 0">4.6</span></div>
<div class="row lt" style="top:1807.54px"><span style="right:-296.00px;transform:scaleX(0.965);transform-origin:100% 0">45</span><span style="left:320.14px;transform:scaleX(0.9047);transform-origin:0 0">Panama</span><span style="right:-635.30px;transform:scaleX(0.9532);transform-origin:100% 0">..................................</span><span style="right:-668.10px;transform:scaleX(0.965);transform-origin:100% 0">4.6</span></div>
<div class="row lt" style="top:1840.39px"><span style="right:-296.00px;transform:scaleX(0.965);transform-origin:100% 0">46</span><span style="left:320.05px;transform:scaleX(0.9494);transform-origin:0 0">Egypt</span><span style="right:-635.30px;transform:scaleX(0.9532);transform-origin:100% 0">.....................................</span><span style="right:-668.10px;transform:scaleX(0.965);transform-origin:100% 0">4.6</span></div>
<div class="row lt" style="top:1873.24px"><span style="right:-296.00px;transform:scaleX(0.965);transform-origin:100% 0">47</span><span style="left:320.09px;transform:scaleX(0.9150);transform-origin:0 0">Sri Lanka</span><span style="right:-635.30px;transform:scaleX(0.9532);transform-origin:100% 0">................................</span><span style="right:-668.10px;transform:scaleX(0.965);transform-origin:100% 0">4.6</span></div>
<div class="row lt" style="top:1906.09px"><span style="right:-296.00px;transform:scaleX(0.965);transform-origin:100% 0">48</span><span style="left:320.08px;transform:scaleX(0.9366);transform-origin:0 0">Indonesia</span><span style="right:-635.30px;transform:scaleX(0.9532);transform-origin:100% 0">...............................</span><span style="right:-668.10px;transform:scaleX(0.965);transform-origin:100% 0">4.6</span></div>
<div class="row lt" style="top:1938.94px"><span style="right:-296.00px;transform:scaleX(0.965);transform-origin:100% 0">49</span><span style="left:320.13px;transform:scaleX(0.8890);transform-origin:0 0">Ghana</span><span style="right:-635.30px;transform:scaleX(0.9532);transform-origin:100% 0">....................................</span><span style="right:-668.10px;transform:scaleX(0.965);transform-origin:100% 0">4.6</span></div>
<div class="row lt" style="top:1971.78px"><span style="right:-296.00px;transform:scaleX(0.965);transform-origin:100% 0">50</span><span style="left:320.06px;transform:scaleX(0.9161);transform-origin:0 0">Jamaica</span><span style="right:-635.30px;transform:scaleX(0.9532);transform-origin:100% 0">.................................</span><span style="right:-668.10px;transform:scaleX(0.965);transform-origin:100% 0">4.6</span></div>
<div class="row lt" style="top:2004.63px"><span style="right:-296.00px;transform:scaleX(0.965);transform-origin:100% 0">51</span><span style="left:320.03px;transform:scaleX(0.9694);transform-origin:0 0">Zimbabwe</span><span style="right:-635.30px;transform:scaleX(0.9532);transform-origin:100% 0">..............................</span><span style="right:-668.10px;transform:scaleX(0.965);transform-origin:100% 0">4.6</span></div>
<div class="row lt" style="top:2037.48px"><span style="right:-296.00px;transform:scaleX(0.965);transform-origin:100% 0">52</span><span style="left:320.05px;transform:scaleX(0.9487);transform-origin:0 0">Portugal</span><span style="right:-635.30px;transform:scaleX(0.9532);transform-origin:100% 0">.................................</span><span style="right:-668.10px;transform:scaleX(0.965);transform-origin:100% 0">4.5</span></div>
<div class="row lt" style="top:2070.33px"><span style="right:-296.00px;transform:scaleX(0.965);transform-origin:100% 0">53</span><span style="left:320.06px;transform:scaleX(0.9401);transform-origin:0 0">Senegal</span><span style="right:-635.30px;transform:scaleX(0.9532);transform-origin:100% 0">..................................</span><span style="right:-668.10px;transform:scaleX(0.965);transform-origin:100% 0">4.5</span></div>
<div class="row lt" style="top:2103.18px"><span style="right:-296.00px;transform:scaleX(0.965);transform-origin:100% 0">54</span><span style="left:320.09px;transform:scaleX(0.9293);transform-origin:0 0">Estonia</span><span style="right:-635.30px;transform:scaleX(0.9532);transform-origin:100% 0">...................................</span><span style="right:-668.10px;transform:scaleX(0.965);transform-origin:100% 0">4.5</span></div>
<div class="row lt" style="top:2136.03px"><span style="right:-296.00px;transform:scaleX(0.965);transform-origin:100% 0">55</span><span style="left:320.10px;transform:scaleX(0.9256);transform-origin:0 0">India</span><span style="right:-635.30px;transform:scaleX(0.9532);transform-origin:100% 0">.......................................</span><span style="right:-668.10px;transform:scaleX(0.965);transform-origin:100% 0">4.5</span></div>
<div class="row lt" style="top:2168.88px"><span style="right:-296.00px;transform:scaleX(0.965);transform-origin:100% 0">56</span><span style="left:320.11px;transform:scaleX(0.8999);transform-origin:0 0">Syria</span><span style="right:-635.30px;transform:scaleX(0.9532);transform-origin:100% 0">.......................................</span><span style="right:-668.10px;transform:scaleX(0.965);transform-origin:100% 0">4.5</span></div>
<div class="row lt" style="top:2201.73px"><span style="right:-296.00px;transform:scaleX(0.965);transform-origin:100% 0">57</span><span style="left:320.04px;transform:scaleX(0.9539);transform-origin:0 0">Ireland</span><span style="right:-635.30px;transform:scaleX(0.9532);transform-origin:100% 0">....................................</span><span style="right:-668.10px;transform:scaleX(0.965);transform-origin:100% 0">4.5</span></div>
<div class="row lt" style="top:2234.58px"><span style="right:-296.00px;transform:scaleX(0.965);transform-origin:100% 0">58</span><span style="left:319.97px;transform:scaleX(0.9877);transform-origin:0 0">Morocco</span><span style="right:-635.30px;transform:scaleX(0.9532);transform-origin:100% 0">................................</span><span style="right:-668.10px;transform:scaleX(0.965);transform-origin:100% 0">4.5</span></div>
<div class="row lt" style="top:2267.43px"><span style="right:-296.00px;transform:scaleX(0.965);transform-origin:100% 0">59</span><span style="left:320.08px;transform:scaleX(0.9216);transform-origin:0 0">Costa Rica</span><span style="right:-635.30px;transform:scaleX(0.9532);transform-origin:100% 0">.............................</span><span style="right:-668.10px;transform:scaleX(0.965);transform-origin:100% 0">4.5</span></div>
<div class="row lt" style="top:2300.27px"><span style="right:-296.00px;transform:scaleX(0.965);transform-origin:100% 0">60</span><span style="left:320.08px;transform:scaleX(0.9346);transform-origin:0 0">Poland</span><span style="right:-635.30px;transform:scaleX(0.9532);transform-origin:100% 0">....................................</span><span style="right:-668.10px;transform:scaleX(0.965);transform-origin:100% 0">4.5</span></div>
<div class="row lt" style="top:2333.12px"><span style="right:-296.00px;transform:scaleX(0.965);transform-origin:100% 0">61</span><span style="left:319.93px;transform:scaleX(1.0055);transform-origin:0 0">Malawi</span><span style="right:-635.30px;transform:scaleX(0.9532);transform-origin:100% 0">...................................</span><span style="right:-668.10px;transform:scaleX(0.965);transform-origin:100% 0">4.4</span></div>
<div class="row lt" style="top:2365.97px"><span style="right:-296.00px;transform:scaleX(0.965);transform-origin:100% 0">62</span><span style="left:320.08px;transform:scaleX(0.9117);transform-origin:0 0">Zambia</span><span style="right:-635.30px;transform:scaleX(0.9532);transform-origin:100% 0">...................................</span><span style="right:-668.10px;transform:scaleX(0.965);transform-origin:100% 0">4.4</span></div>
<div class="row lt" style="top:2398.82px"><span style="right:-296.00px;transform:scaleX(0.965);transform-origin:100% 0">63</span><span style="left:320.04px;transform:scaleX(0.9540);transform-origin:0 0">Peru</span><span style="right:-635.30px;transform:scaleX(0.9532);transform-origin:100% 0">.......................................</span><span style="right:-668.10px;transform:scaleX(0.965);transform-origin:100% 0">4.4</span></div>
<div class="row lt" style="top:2431.67px"><span style="right:-296.00px;transform:scaleX(0.965);transform-origin:100% 0">64</span><span style="left:320.08px;transform:scaleX(0.9354);transform-origin:0 0">Brazil</span><span style="right:-635.30px;transform:scaleX(0.9532);transform-origin:100% 0">......................................</span><span style="right:-668.10px;transform:scaleX(0.965);transform-origin:100% 0">4.4</span></div>
<div class="row lt" style="top:2464.52px"><span style="right:-296.00px;transform:scaleX(0.965);transform-origin:100% 0">65</span><span style="left:320.05px;transform:scaleX(0.9515);transform-origin:0 0">Cameroon</span><span style="right:-635.30px;transform:scaleX(0.9532);transform-origin:100% 0">..............................</span><span style="right:-668.10px;transform:scaleX(0.965);transform-origin:100% 0">4.4</span></div>
<div class="row lt" style="top:2497.37px"><span style="right:-296.00px;transform:scaleX(0.965);transform-origin:100% 0">66</span><span style="left:320.11px;transform:scaleX(0.9040);transform-origin:0 0">China</span><span style="right:-635.30px;transform:scaleX(0.9532);transform-origin:100% 0">.....................................</span><span style="right:-668.10px;transform:scaleX(0.965);transform-origin:100% 0">4.4</span></div>
<div class="row lt" style="top:2530.22px"><span style="right:-296.00px;transform:scaleX(0.965);transform-origin:100% 0">67</span><span style="left:320.00px;transform:scaleX(0.9731);transform-origin:0 0">Benin</span><span style="right:-635.30px;transform:scaleX(0.9532);transform-origin:100% 0">.....................................</span><span style="right:-668.10px;transform:scaleX(0.965);transform-origin:100% 0">4.3</span></div>
<div class="row lt" style="top:2563.07px"><span style="right:-296.00px;transform:scaleX(0.965);transform-origin:100% 0">68</span><span style="left:320.07px;transform:scaleX(0.9404);transform-origin:0 0">Uruguay</span><span style="right:-635.30px;transform:scaleX(0.9532);transform-origin:100% 0">.................................</span><span style="right:-668.10px;transform:scaleX(0.965);transform-origin:100% 0">4.3</span></div>
<div class="row lt" style="top:2595.92px"><span style="right:-296.00px;transform:scaleX(0.965);transform-origin:100% 0">69</span><span style="left:320.06px;transform:scaleX(0.9414);transform-origin:0 0">Swaziland</span><span style="right:-635.30px;transform:scaleX(0.9532);transform-origin:100% 0">..............................</span><span style="right:-668.10px;transform:scaleX(0.965);transform-origin:100% 0">4.3</span></div>
<div class="row lt" style="top:2628.76px"><span style="right:-296.00px;transform:scaleX(0.965);transform-origin:100% 0">70</span><span style="left:320.05px;transform:scaleX(0.9672);transform-origin:0 0">Vietnam</span><span style="right:-635.30px;transform:scaleX(0.9532);transform-origin:100% 0">.................................</span><span style="right:-668.10px;transform:scaleX(0.965);transform-origin:100% 0">4.3</span></div>
<span class="t" style="top:326.57px;font-size:20px;line-height:20px;color:#15408a;letter-spacing:1.5px;left:1085.27px;transform:scale(0.8608,1.0);transform-origin:0 84.65%;-webkit-text-stroke:0.55px #15408a;">RANK</span>
<span class="t" style="top:326.57px;font-size:20px;line-height:20px;color:#15408a;letter-spacing:1.5px;left:1158.04px;transform:scale(0.8123,1.0);transform-origin:0 84.65%;-webkit-text-stroke:0.55px #15408a;">COUNTRY/ECONOMY</span>
<span class="t" style="top:326.57px;font-size:20px;line-height:20px;color:#15408a;letter-spacing:1.5px;left:1445.14px;transform:scale(0.7851,1.0);transform-origin:0 84.65%;-webkit-text-stroke:0.55px #15408a;">SCORE</span>
<span class="t" style="top:326.57px;font-size:20px;line-height:20px;color:#15408a;left:1527.30px;transform:scale(0.7011,1.0);transform-origin:0 84.65%;-webkit-text-stroke:0.55px #15408a;">1</span>
<span class="t" style="top:326.57px;font-size:20px;line-height:20px;color:#15408a;letter-spacing:1.5px;left:1618.31px;transform:scale(0.8401,1.0);transform-origin:0 84.65%;-webkit-text-stroke:0.55px #15408a;">MEAN:&nbsp;4.3</span>
<span class="t" style="top:326.57px;font-size:20px;line-height:20px;color:#15408a;left:1802.90px;transform:scale(0.9451,1.0);transform-origin:0 84.65%;-webkit-text-stroke:0.55px #15408a;">7</span>
<div class="b" style="left:1525.30px;top:359.2px;width:294.6px;height:2269.40px;background:#eae9ea"></div>
<div class="bar" style="left:1525.30px;top:370.20px;width:163.19px"></div>
<div class="bar" style="left:1525.30px;top:403.08px;width:158.24px"></div>
<div class="bar" style="left:1525.30px;top:435.95px;width:158.24px"></div>
<div class="bar" style="left:1525.30px;top:468.83px;width:153.29px"></div>
<div class="bar" style="left:1525.30px;top:501.70px;width:153.29px"></div>
<div class="bar" style="left:1525.30px;top:534.58px;width:153.29px"></div>
<div class="bar" style="left:1525.30px;top:567.46px;width:153.29px"></div>
<div class="bar" style="left:1525.30px;top:600.33px;width:153.29px"></div>
<div class="bar" style="left:1525.30px;top:633.21px;width:153.29px"></div>
<div class="bar" style="left:1525.30px;top:666.08px;width:153.29px"></div>
<div class="bar" style="left:1525.30px;top:698.96px;width:153.29px"></div>
<div class="bar" style="left:1525.30px;top:731.84px;width:148.35px"></div>
<div class="bar" style="left:1525.30px;top:764.71px;width:148.35px"></div>
<div class="bar" style="left:1525.30px;top:797.59px;width:148.35px"></div>
<div class="bar" style="left:1525.30px;top:830.46px;width:148.35px"></div>
<div class="bar" style="left:1525.30px;top:863.34px;width:148.35px"></div>
<div class="bar" style="left:1525.30px;top:896.22px;width:148.35px"></div>
<div class="bar" style="left:1525.30px;top:929.09px;width:148.35px"></div>
<div class="bar" style="left:1525.30px;top:961.97px;width:148.35px"></div>
<div class="bar" style="left:1525.30px;top:994.84px;width:148.35px"></div>
<div class="bar" style="left:1525.30px;top:1027.72px;width:148.35px"></div>
<div class="bar" style="left:1525.30px;top:1060.60px;width:143.41px"></div>
<div class="bar" style="left:1525.30px;top:1093.47px;width:143.41px"></div>
<div class="bar" style="left:1525.30px;top:1126.35px;width:143.41px"></div>
<div class="bar" style="left:1525.30px;top:1159.22px;width:143.41px"></div>
<div class="bar" style="left:1525.30px;top:1192.10px;width:143.41px"></div>
<div class="bar" style="left:1525.30px;top:1224.98px;width:143.41px"></div>
<div class="bar" style="left:1525.30px;top:1257.85px;width:143.41px"></div>
<div class="bar" style="left:1525.30px;top:1290.73px;width:143.41px"></div>
<div class="bar" style="left:1525.30px;top:1323.60px;width:143.41px"></div>
<div class="bar" style="left:1525.30px;top:1356.48px;width:138.46px"></div>
<div class="bar" style="left:1525.30px;top:1389.36px;width:138.46px"></div>
<div class="bar" style="left:1525.30px;top:1422.23px;width:138.46px"></div>
<div class="bar" style="left:1525.30px;top:1455.11px;width:138.46px"></div>
<div class="bar" style="left:1525.30px;top:1487.98px;width:138.46px"></div>
<div class="bar" style="left:1525.30px;top:1520.86px;width:138.46px"></div>
<div class="bar" style="left:1525.30px;top:1553.74px;width:138.46px"></div>
<div class="bar" style="left:1525.30px;top:1586.61px;width:138.46px"></div>
<div class="bar" style="left:1525.30px;top:1619.49px;width:138.46px"></div>
<div class="bar" style="left:1525.30px;top:1652.36px;width:133.52px"></div>
<div class="bar" style="left:1525.30px;top:1685.24px;width:133.52px"></div>
<div class="bar" style="left:1525.30px;top:1718.12px;width:133.52px"></div>
<div class="bar" style="left:1525.30px;top:1750.99px;width:133.52px"></div>
<div class="bar" style="left:1525.30px;top:1783.87px;width:128.57px"></div>
<div class="bar" style="left:1525.30px;top:1816.74px;width:128.57px"></div>
<div class="bar" style="left:1525.30px;top:1849.62px;width:128.57px"></div>
<div class="bar" style="left:1525.30px;top:1882.50px;width:128.57px"></div>
<div class="bar" style="left:1525.30px;top:1915.37px;width:128.57px"></div>
<div class="bar" style="left:1525.30px;top:1948.25px;width:128.57px"></div>
<div class="bar" style="left:1525.30px;top:1981.12px;width:123.62px"></div>
<div class="bar" style="left:1525.30px;top:2014.00px;width:123.62px"></div>
<div class="bar" style="left:1525.30px;top:2046.88px;width:123.62px"></div>
<div class="bar" style="left:1525.30px;top:2079.75px;width:123.62px"></div>
<div class="bar" style="left:1525.30px;top:2112.63px;width:123.62px"></div>
<div class="bar" style="left:1525.30px;top:2145.50px;width:118.68px"></div>
<div class="bar" style="left:1525.30px;top:2178.38px;width:118.68px"></div>
<div class="bar" style="left:1525.30px;top:2211.26px;width:118.68px"></div>
<div class="bar" style="left:1525.30px;top:2244.13px;width:118.68px"></div>
<div class="bar" style="left:1525.30px;top:2277.01px;width:113.73px"></div>
<div class="bar" style="left:1525.30px;top:2309.88px;width:113.73px"></div>
<div class="bar" style="left:1525.30px;top:2342.76px;width:108.79px"></div>
<div class="bar" style="left:1525.30px;top:2375.64px;width:108.79px"></div>
<div class="bar" style="left:1525.30px;top:2408.51px;width:103.85px"></div>
<div class="bar" style="left:1525.30px;top:2441.39px;width:103.85px"></div>
<div class="bar" style="left:1525.30px;top:2474.26px;width:98.90px"></div>
<div class="bar" style="left:1525.30px;top:2507.14px;width:98.90px"></div>
<div class="bar" style="left:1525.30px;top:2540.02px;width:93.95px"></div>
<div class="bar" style="left:1525.30px;top:2572.89px;width:89.01px"></div>
<div class="bar" style="left:1525.30px;top:2605.77px;width:84.07px"></div>
<div class="b" style="left:1683.00px;top:357.25px;width:3px;height:2269.40px;background:radial-gradient(circle at 50% 50%,#000 0,#000 1.15px,rgba(0,0,0,0) 1.7px) 0 0/3px 5.18px repeat-y"></div>
<div class="row lt" style="top:362.18px"><span style="right:-1134.00px;transform:scaleX(0.965);transform-origin:100% 0">71</span><span style="left:1158.06px;transform:scaleX(0.9441);transform-origin:0 0">Mauritania</span><span style="right:-1473.30px;transform:scaleX(0.9532);transform-origin:100% 0">..............................</span><span style="right:-1506.10px;transform:scaleX(0.965);transform-origin:100% 0">4.3</span></div>
<div class="row lt" style="top:395.03px"><span style="right:-1134.00px;transform:scaleX(0.965);transform-origin:100% 0">72</span><span style="left:1158.05px;transform:scaleX(0.9470);transform-origin:0 0">Lebanon</span><span style="right:-1473.30px;transform:scaleX(0.9532);transform-origin:100% 0">.................................</span><span style="right:-1506.10px;transform:scaleX(0.965);transform-origin:100% 0">4.2</span></div>
<div class="row lt" style="top:427.88px"><span style="right:-1134.00px;transform:scaleX(0.965);transform-origin:100% 0">73</span><span style="left:1158.07px;transform:scaleX(0.9351);transform-origin:0 0">Slovak Republic</span><span style="right:-1473.30px;transform:scaleX(0.9532);transform-origin:100% 0">.....................</span><span style="right:-1506.10px;transform:scaleX(0.965);transform-origin:100% 0">4.2</span></div>
<div class="row lt" style="top:460.73px"><span style="right:-1134.00px;transform:scaleX(0.965);transform-origin:100% 0">74</span><span style="left:1158.09px;transform:scaleX(0.9145);transform-origin:0 0">Spain</span><span style="right:-1473.30px;transform:scaleX(0.9532);transform-origin:100% 0">......................................</span><span style="right:-1506.10px;transform:scaleX(0.965);transform-origin:100% 0">4.1</span></div>
<div class="row lt" style="top:493.58px"><span style="right:-1134.00px;transform:scaleX(0.965);transform-origin:100% 0">75</span><span style="left:1158.07px;transform:scaleX(0.9289);transform-origin:0 0">Cape Verde</span><span style="right:-1473.30px;transform:scaleX(0.9532);transform-origin:100% 0">............................</span><span style="right:-1506.10px;transform:scaleX(0.965);transform-origin:100% 0">4.1</span></div>
<div class="row lt" style="top:526.43px"><span style="right:-1134.00px;transform:scaleX(0.965);transform-origin:100% 0">76</span><span style="left:1158.06px;transform:scaleX(0.9292);transform-origin:0 0">Trinidad and Tobago</span><span style="right:-1473.30px;transform:scaleX(0.9532);transform-origin:100% 0">...............</span><span style="right:-1506.10px;transform:scaleX(0.965);transform-origin:100% 0">4.1</span></div>
<div class="row lt" style="top:559.28px"><span style="right:-1134.00px;transform:scaleX(0.965);transform-origin:100% 0">77</span><span style="left:1158.08px;transform:scaleX(0.9346);transform-origin:0 0">Burkina Faso</span><span style="right:-1473.30px;transform:scaleX(0.9532);transform-origin:100% 0">..........................</span><span style="right:-1506.10px;transform:scaleX(0.965);transform-origin:100% 0">4.1</span></div>
<div class="row lt" style="top:592.13px"><span style="right:-1134.00px;transform:scaleX(0.965);transform-origin:100% 0">78</span><span style="left:1158.08px;transform:scaleX(0.9318);transform-origin:0 0">Hungary</span><span style="right:-1473.30px;transform:scaleX(0.9532);transform-origin:100% 0">.................................</span><span style="right:-1506.10px;transform:scaleX(0.965);transform-origin:100% 0">4.1</span></div>
<div class="row lt" style="top:624.98px"><span style="right:-1134.00px;transform:scaleX(0.965);transform-origin:100% 0">79</span><span style="left:1158.12px;transform:scaleX(0.9148);transform-origin:0 0">Romania</span><span style="right:-1473.30px;transform:scaleX(0.9532);transform-origin:100% 0">................................</span><span style="right:-1506.10px;transform:scaleX(0.965);transform-origin:100% 0">4.1</span></div>
<div class="row lt" style="top:657.82px"><span style="right:-1134.00px;transform:scaleX(0.965);transform-origin:100% 0">80</span><span style="left:1158.07px;transform:scaleX(0.9407);transform-origin:0 0">Philippines</span><span style="right:-1473.30px;transform:scaleX(0.9532);transform-origin:100% 0">.............................</span><span style="right:-1506.10px;transform:scaleX(0.965);transform-origin:100% 0">4.1</span></div>
<div class="row lt" style="top:690.67px"><span style="right:-1134.00px;transform:scaleX(0.965);transform-origin:100% 0">81</span><span style="left:1157.96px;transform:scaleX(0.9934);transform-origin:0 0">Mexico</span><span style="right:-1473.30px;transform:scaleX(0.9532);transform-origin:100% 0">...................................</span><span style="right:-1506.10px;transform:scaleX(0.965);transform-origin:100% 0">4.1</span></div>
<div class="row lt" style="top:723.52px"><span style="right:-1134.00px;transform:scaleX(0.965);transform-origin:100% 0">82</span><span style="left:1158.05px;transform:scaleX(0.9073);transform-origin:0 0">Albania</span><span style="right:-1473.30px;transform:scaleX(0.9532);transform-origin:100% 0">...................................</span><span style="right:-1506.10px;transform:scaleX(0.965);transform-origin:100% 0">4.0</span></div>
<div class="row lt" style="top:756.37px"><span style="right:-1134.00px;transform:scaleX(0.965);transform-origin:100% 0">83</span><span style="left:1158.06px;transform:scaleX(0.9436);transform-origin:0 0">Iceland</span><span style="right:-1473.30px;transform:scaleX(0.9532);transform-origin:100% 0">...................................</span><span style="right:-1506.10px;transform:scaleX(0.965);transform-origin:100% 0">4.0</span></div>
<div class="row lt" style="top:789.22px"><span style="right:-1134.00px;transform:scaleX(0.965);transform-origin:100% 0">84</span><span style="left:1158.02px;transform:scaleX(0.9658);transform-origin:0 0">Kuwait</span><span style="right:-1473.30px;transform:scaleX(0.9532);transform-origin:100% 0">...................................</span><span style="right:-1506.10px;transform:scaleX(0.965);transform-origin:100% 0">4.0</span></div>
<div class="row lt" style="top:822.07px"><span style="right:-1134.00px;transform:scaleX(0.965);transform-origin:100% 0">85</span><span style="left:1158.10px;transform:scaleX(0.9259);transform-origin:0 0">Lithuania</span><span style="right:-1473.30px;transform:scaleX(0.9532);transform-origin:100% 0">................................</span><span style="right:-1506.10px;transform:scaleX(0.965);transform-origin:100% 0">4.0</span></div>
<div class="row lt" style="top:854.92px"><span style="right:-1134.00px;transform:scaleX(0.965);transform-origin:100% 0">86</span><span style="left:1158.12px;transform:scaleX(0.9111);transform-origin:0 0">Uganda</span><span style="right:-1473.30px;transform:scaleX(0.9532);transform-origin:100% 0">..................................</span><span style="right:-1506.10px;transform:scaleX(0.965);transform-origin:100% 0">4.0</span></div>
<div class="row lt" style="top:887.77px"><span style="right:-1134.00px;transform:scaleX(0.965);transform-origin:100% 0">87</span><span style="left:1157.97px;transform:scaleX(0.9893);transform-origin:0 0">Montenegro</span><span style="right:-1473.30px;transform:scaleX(0.9532);transform-origin:100% 0">...........................</span><span style="right:-1506.10px;transform:scaleX(0.965);transform-origin:100% 0">4.0</span></div>
<div class="row lt" style="top:920.62px"><span style="right:-1134.00px;transform:scaleX(0.965);transform-origin:100% 0">88</span><span style="left:1158.06px;transform:scaleX(0.9425);transform-origin:0 0">Honduras</span><span style="right:-1473.30px;transform:scaleX(0.9532);transform-origin:100% 0">...............................</span><span style="right:-1506.10px;transform:scaleX(0.965);transform-origin:100% 0">4.0</span></div>
<div class="row lt" style="top:953.47px"><span style="right:-1134.00px;transform:scaleX(0.965);transform-origin:100% 0">89</span><span style="left:1158.07px;transform:scaleX(0.9340);transform-origin:0 0">Czech Republic</span><span style="right:-1473.30px;transform:scaleX(0.9532);transform-origin:100% 0">......................</span><span style="right:-1506.10px;transform:scaleX(0.965);transform-origin:100% 0">4.0</span></div>
<div class="row lt" style="top:986.31px"><span style="right:-1134.00px;transform:scaleX(0.965);transform-origin:100% 0">90</span><span style="left:1158.07px;transform:scaleX(0.9311);transform-origin:0 0">Colombia</span><span style="right:-1473.30px;transform:scaleX(0.9532);transform-origin:100% 0">...............................</span><span style="right:-1506.10px;transform:scaleX(0.965);transform-origin:100% 0">4.0</span></div>
<div class="row lt" style="top:1019.16px"><span style="right:-1134.00px;transform:scaleX(0.965);transform-origin:100% 0">91</span><span style="left:1158.08px;transform:scaleX(0.8806);transform-origin:0 0">Tanzania</span><span style="right:-1473.30px;transform:scaleX(0.9532);transform-origin:100% 0">.................................</span><span style="right:-1506.10px;transform:scaleX(0.965);transform-origin:100% 0">4.0</span></div>
<div class="row lt" style="top:1052.01px"><span style="right:-1134.00px;transform:scaleX(0.965);transform-origin:100% 0">92</span><span style="left:1158.02px;transform:scaleX(0.9658);transform-origin:0 0">Mozambique</span><span style="right:-1473.30px;transform:scaleX(0.9532);transform-origin:100% 0">..........................</span><span style="right:-1506.10px;transform:scaleX(0.965);transform-origin:100% 0">3.9</span></div>
<div class="row lt" style="top:1084.86px"><span style="right:-1134.00px;transform:scaleX(0.965);transform-origin:100% 0">93</span><span style="left:1158.10px;transform:scaleX(0.9240);transform-origin:0 0">Latvia</span><span style="right:-1473.30px;transform:scaleX(0.9532);transform-origin:100% 0">.....................................</span><span style="right:-1506.10px;transform:scaleX(0.965);transform-origin:100% 0">3.9</span></div>
<div class="row lt" style="top:1117.71px"><span style="right:-1134.00px;transform:scaleX(0.965);transform-origin:100% 0">94</span><span style="left:1158.09px;transform:scaleX(0.9269);transform-origin:0 0">Pakistan</span><span style="right:-1473.30px;transform:scaleX(0.9532);transform-origin:100% 0">.................................</span><span style="right:-1506.10px;transform:scaleX(0.965);transform-origin:100% 0">3.9</span></div>
<div class="row lt" style="top:1150.56px"><span style="right:-1134.00px;transform:scaleX(0.965);transform-origin:100% 0">95</span><span style="left:1158.05px;transform:scaleX(0.9246);transform-origin:0 0">Algeria</span><span style="right:-1473.30px;transform:scaleX(0.9532);transform-origin:100% 0">...................................</span><span style="right:-1506.10px;transform:scaleX(0.965);transform-origin:100% 0">3.9</span></div>
<div class="row lt" style="top:1183.41px"><span style="right:-1134.00px;transform:scaleX(0.965);transform-origin:100% 0">96</span><span style="left:1158.06px;transform:scaleX(0.9365);transform-origin:0 0">Tajikistan</span><span style="right:-1473.30px;transform:scaleX(0.9532);transform-origin:100% 0">................................</span><span style="right:-1506.10px;transform:scaleX(0.965);transform-origin:100% 0">3.9</span></div>
<div class="row lt" style="top:1216.26px"><span style="right:-1134.00px;transform:scaleX(0.965);transform-origin:100% 0">97</span><span style="left:1158.07px;transform:scaleX(0.9166);transform-origin:0 0">Turkey</span><span style="right:-1473.30px;transform:scaleX(0.9532);transform-origin:100% 0">....................................</span><span style="right:-1506.10px;transform:scaleX(0.965);transform-origin:100% 0">3.9</span></div>
<div class="row lt" style="top:1249.11px"><span style="right:-1134.00px;transform:scaleX(0.965);transform-origin:100% 0">98</span><span style="left:1158.05px;transform:scaleX(0.9492);transform-origin:0 0">Iran, Islamic Rep.</span><span style="right:-1473.30px;transform:scaleX(0.9532);transform-origin:100% 0">...................</span><span style="right:-1506.10px;transform:scaleX(0.965);transform-origin:100% 0">3.9</span></div>
<div class="row lt" style="top:1281.96px"><span style="right:-1134.00px;transform:scaleX(0.965);transform-origin:100% 0">99</span><span style="left:1158.02px;transform:scaleX(0.9727);transform-origin:0 0">Côte d’Ivoire</span><span style="right:-1473.30px;transform:scaleX(0.9532);transform-origin:100% 0">..........................</span><span style="right:-1506.10px;transform:scaleX(0.965);transform-origin:100% 0">3.9</span></div>
<div class="row lt" style="top:1314.80px"><span style="right:-1134.00px;transform:scaleX(0.965);transform-origin:100% 0">100</span><span style="left:1158.14px;transform:scaleX(0.9057);transform-origin:0 0">Kenya</span><span style="right:-1473.30px;transform:scaleX(0.9532);transform-origin:100% 0">.....................................</span><span style="right:-1506.10px;transform:scaleX(0.965);transform-origin:100% 0">3.9</span></div>
<div class="row lt" style="top:1347.65px"><span style="right:-1134.00px;transform:scaleX(0.965);transform-origin:100% 0">101</span><span style="left:1157.92px;transform:scaleX(1.0141);transform-origin:0 0">Mali</span><span style="right:-1473.30px;transform:scaleX(0.9532);transform-origin:100% 0">........................................</span><span style="right:-1506.10px;transform:scaleX(0.965);transform-origin:100% 0">3.8</span></div>
<div class="row lt" style="top:1380.50px"><span style="right:-1134.00px;transform:scaleX(0.965);transform-origin:100% 0">102</span><span style="left:1158.09px;transform:scaleX(0.9268);transform-origin:0 0">Korea, Rep.</span><span style="right:-1473.30px;transform:scaleX(0.9532);transform-origin:100% 0">............................</span><span style="right:-1506.10px;transform:scaleX(0.965);transform-origin:100% 0">3.8</span></div>
<div class="row lt" style="top:1413.35px"><span style="right:-1134.00px;transform:scaleX(0.965);transform-origin:100% 0">103</span><span style="left:1158.08px;transform:scaleX(0.9252);transform-origin:0 0">Cambodia</span><span style="right:-1473.30px;transform:scaleX(0.9532);transform-origin:100% 0">..............................</span><span style="right:-1506.10px;transform:scaleX(0.965);transform-origin:100% 0">3.8</span></div>
<div class="row lt" style="top:1446.20px"><span style="right:-1134.00px;transform:scaleX(0.965);transform-origin:100% 0">104</span><span style="left:1158.15px;transform:scaleX(0.8990);transform-origin:0 0">Paraguay</span><span style="right:-1473.30px;transform:scaleX(0.9532);transform-origin:100% 0">................................</span><span style="right:-1506.10px;transform:scaleX(0.965);transform-origin:100% 0">3.8</span></div>
<div class="row lt" style="top:1479.05px"><span style="right:-1134.00px;transform:scaleX(0.965);transform-origin:100% 0">105</span><span style="left:1158.11px;transform:scaleX(0.8988);transform-origin:0 0">Guyana</span><span style="right:-1473.30px;transform:scaleX(0.9532);transform-origin:100% 0">..................................</span><span style="right:-1506.10px;transform:scaleX(0.965);transform-origin:100% 0">3.8</span></div>
<div class="row lt" style="top:1511.90px"><span style="right:-1134.00px;transform:scaleX(0.965);transform-origin:100% 0">106</span><span style="left:1158.11px;transform:scaleX(0.9184);transform-origin:0 0">El Salvador</span><span style="right:-1473.30px;transform:scaleX(0.9532);transform-origin:100% 0">.............................</span><span style="right:-1506.10px;transform:scaleX(0.965);transform-origin:100% 0">3.8</span></div>
<div class="row lt" style="top:1544.75px"><span style="right:-1134.00px;transform:scaleX(0.965);transform-origin:100% 0">107</span><span style="left:1158.05px;transform:scaleX(0.9283);transform-origin:0 0">Azerbaijan</span><span style="right:-1473.30px;transform:scaleX(0.9532);transform-origin:100% 0">..............................</span><span style="right:-1506.10px;transform:scaleX(0.965);transform-origin:100% 0">3.8</span></div>
<div class="row lt" style="top:1577.60px"><span style="right:-1134.00px;transform:scaleX(0.965);transform-origin:100% 0">108</span><span style="left:1158.08px;transform:scaleX(0.9265);transform-origin:0 0">Guatemala</span><span style="right:-1473.30px;transform:scaleX(0.9532);transform-origin:100% 0">.............................</span><span style="right:-1506.10px;transform:scaleX(0.965);transform-origin:100% 0">3.8</span></div>
<div class="row lt" style="top:1610.45px"><span style="right:-1134.00px;transform:scaleX(0.965);transform-origin:100% 0">109</span><span style="left:1158.04px;transform:scaleX(0.9521);transform-origin:0 0">Dominican Republic</span><span style="right:-1473.30px;transform:scaleX(0.9532);transform-origin:100% 0">...............</span><span style="right:-1506.10px;transform:scaleX(0.965);transform-origin:100% 0">3.8</span></div>
<div class="row lt" style="top:1643.29px"><span style="right:-1134.00px;transform:scaleX(0.965);transform-origin:100% 0">110</span><span style="left:1158.08px;transform:scaleX(0.9269);transform-origin:0 0">Chad</span><span style="right:-1473.30px;transform:scaleX(0.9532);transform-origin:100% 0">......................................</span><span style="right:-1506.10px;transform:scaleX(0.965);transform-origin:100% 0">3.7</span></div>
<div class="row lt" style="top:1676.14px"><span style="right:-1134.00px;transform:scaleX(0.965);transform-origin:100% 0">111</span><span style="left:1158.02px;transform:scaleX(0.9650);transform-origin:0 0">Moldova</span><span style="right:-1473.30px;transform:scaleX(0.9532);transform-origin:100% 0">.................................</span><span style="right:-1506.10px;transform:scaleX(0.965);transform-origin:100% 0">3.7</span></div>
<div class="row lt" style="top:1708.99px"><span style="right:-1134.00px;transform:scaleX(0.965);transform-origin:100% 0">112</span><span style="left:1158.07px;transform:scaleX(0.9386);transform-origin:0 0">Macedonia, FYR</span><span style="right:-1473.30px;transform:scaleX(0.9532);transform-origin:100% 0">....................</span><span style="right:-1506.10px;transform:scaleX(0.965);transform-origin:100% 0">3.7</span></div>
<div class="row lt" style="top:1741.84px"><span style="right:-1134.00px;transform:scaleX(0.965);transform-origin:100% 0">113</span><span style="left:1158.08px;transform:scaleX(0.9326);transform-origin:0 0">Ecuador</span><span style="right:-1473.30px;transform:scaleX(0.9532);transform-origin:100% 0">.................................</span><span style="right:-1506.10px;transform:scaleX(0.965);transform-origin:100% 0">3.7</span></div>
<div class="row lt" style="top:1774.69px"><span style="right:-1134.00px;transform:scaleX(0.965);transform-origin:100% 0">114</span><span style="left:1157.98px;transform:scaleX(0.9827);transform-origin:0 0">Lesotho</span><span style="right:-1473.30px;transform:scaleX(0.9532);transform-origin:100% 0">.................................</span><span style="right:-1506.10px;transform:scaleX(0.965);transform-origin:100% 0">3.6</span></div>
<div class="row lt" style="top:1807.54px"><span style="right:-1134.00px;transform:scaleX(0.965);transform-origin:100% 0">115</span><span style="left:1158.05px;transform:scaleX(0.9371);transform-origin:0 0">Angola</span><span style="right:-1473.30px;transform:scaleX(0.9532);transform-origin:100% 0">...................................</span><span style="right:-1506.10px;transform:scaleX(0.965);transform-origin:100% 0">3.6</span></div>
<div class="row lt" style="top:1840.39px"><span style="right:-1134.00px;transform:scaleX(0.965);transform-origin:100% 0">116</span><span style="left:1158.10px;transform:scaleX(0.9261);transform-origin:0 0">Kazakhstan</span><span style="right:-1473.30px;transform:scaleX(0.9532);transform-origin:100% 0">............................</span><span style="right:-1506.10px;transform:scaleX(0.965);transform-origin:100% 0">3.6</span></div>
<div class="row lt" style="top:1873.24px"><span style="right:-1134.00px;transform:scaleX(0.965);transform-origin:100% 0">117</span><span style="left:1158.08px;transform:scaleX(0.9344);transform-origin:0 0">Nigeria</span><span style="right:-1473.30px;transform:scaleX(0.9532);transform-origin:100% 0">...................................</span><span style="right:-1506.10px;transform:scaleX(0.965);transform-origin:100% 0">3.6</span></div>
<div class="row lt" style="top:1906.09px"><span style="right:-1134.00px;transform:scaleX(0.965);transform-origin:100% 0">118</span><span style="left:1158.07px;transform:scaleX(0.9365);transform-origin:0 0">Libya</span><span style="right:-1473.30px;transform:scaleX(0.9532);transform-origin:100% 0">......................................</span><span style="right:-1506.10px;transform:scaleX(0.965);transform-origin:100% 0">3.6</span></div>
<div class="row lt" style="top:1938.94px"><span style="right:-1134.00px;transform:scaleX(0.965);transform-origin:100% 0">119</span><span style="left:1158.08px;transform:scaleX(0.9226);transform-origin:0 0">Slovenia</span><span style="right:-1473.30px;transform:scaleX(0.9532);transform-origin:100% 0">.................................</span><span style="right:-1506.10px;transform:scaleX(0.965);transform-origin:100% 0">3.6</span></div>
<div class="row lt" style="top:1971.78px"><span style="right:-1134.00px;transform:scaleX(0.965);transform-origin:100% 0">120</span><span style="left:1158.08px;transform:scaleX(0.9363);transform-origin:0 0">Madagascar</span><span style="right:-1473.30px;transform:scaleX(0.9532);transform-origin:100% 0">...........................</span><span style="right:-1506.10px;transform:scaleX(0.965);transform-origin:100% 0">3.5</span></div>
<div class="row lt" style="top:2004.63px"><span style="right:-1134.00px;transform:scaleX(0.965);transform-origin:100% 0">121</span><span style="left:1158.05px;transform:scaleX(0.9563);transform-origin:0 0">Argentina</span><span style="right:-1473.30px;transform:scaleX(0.9532);transform-origin:100% 0">...............................</span><span style="right:-1506.10px;transform:scaleX(0.965);transform-origin:100% 0">3.5</span></div>
<div class="row lt" style="top:2037.48px"><span style="right:-1134.00px;transform:scaleX(0.965);transform-origin:100% 0">122</span><span style="left:1158.09px;transform:scaleX(0.9208);transform-origin:0 0">Georgia</span><span style="right:-1473.30px;transform:scaleX(0.9532);transform-origin:100% 0">..................................</span><span style="right:-1506.10px;transform:scaleX(0.965);transform-origin:100% 0">3.5</span></div>
<div class="row lt" style="top:2070.33px"><span style="right:-1134.00px;transform:scaleX(0.965);transform-origin:100% 0">123</span><span style="left:1158.08px;transform:scaleX(0.9219);transform-origin:0 0">Croatia</span><span style="right:-1473.30px;transform:scaleX(0.9532);transform-origin:100% 0">...................................</span><span style="right:-1506.10px;transform:scaleX(0.965);transform-origin:100% 0">3.5</span></div>
<div class="row lt" style="top:2103.18px"><span style="right:-1134.00px;transform:scaleX(0.965);transform-origin:100% 0">124</span><span style="left:1158.10px;transform:scaleX(0.9252);transform-origin:0 0">Bulgaria</span><span style="right:-1473.30px;transform:scaleX(0.9532);transform-origin:100% 0">..................................</span><span style="right:-1506.10px;transform:scaleX(0.965);transform-origin:100% 0">3.5</span></div>
<div class="row lt" style="top:2136.03px"><span style="right:-1134.00px;transform:scaleX(0.965);transform-origin:100% 0">125</span><span style="left:1158.06px;transform:scaleX(0.9432);transform-origin:0 0">Bangladesh</span><span style="right:-1473.30px;transform:scaleX(0.9532);transform-origin:100% 0">............................</span><span style="right:-1506.10px;transform:scaleX(0.965);transform-origin:100% 0">3.4</span></div>
<div class="row lt" style="top:2168.88px"><span style="right:-1134.00px;transform:scaleX(0.965);transform-origin:100% 0">126</span><span style="left:1158.03px;transform:scaleX(0.9610);transform-origin:0 0">Nepal</span><span style="right:-1473.30px;transform:scaleX(0.9532);transform-origin:100% 0">.....................................</span><span style="right:-1506.10px;transform:scaleX(0.965);transform-origin:100% 0">3.4</span></div>
<div class="row lt" style="top:2201.73px"><span style="right:-1134.00px;transform:scaleX(0.965);transform-origin:100% 0">127</span><span style="left:1158.11px;transform:scaleX(0.9180);transform-origin:0 0">Nicaragua</span><span style="right:-1473.30px;transform:scaleX(0.9532);transform-origin:100% 0">...............................</span><span style="right:-1506.10px;transform:scaleX(0.965);transform-origin:100% 0">3.4</span></div>
<div class="row lt" style="top:2234.58px"><span style="right:-1134.00px;transform:scaleX(0.965);transform-origin:100% 0">128</span><span style="left:1158.00px;transform:scaleX(0.9692);transform-origin:0 0">Italy</span><span style="right:-1473.30px;transform:scaleX(0.9532);transform-origin:100% 0">........................................</span><span style="right:-1506.10px;transform:scaleX(0.965);transform-origin:100% 0">3.4</span></div>
<div class="row lt" style="top:2267.43px"><span style="right:-1134.00px;transform:scaleX(0.965);transform-origin:100% 0">129</span><span style="left:1157.99px;transform:scaleX(0.9789);transform-origin:0 0">Burundi</span><span style="right:-1473.30px;transform:scaleX(0.9532);transform-origin:100% 0">..................................</span><span style="right:-1506.10px;transform:scaleX(0.965);transform-origin:100% 0">3.3</span></div>
<div class="row lt" style="top:2300.27px"><span style="right:-1134.00px;transform:scaleX(0.965);transform-origin:100% 0">130</span><span style="left:1158.05px;transform:scaleX(0.9263);transform-origin:0 0">Venezuela</span><span style="right:-1473.30px;transform:scaleX(0.9532);transform-origin:100% 0">..............................</span><span style="right:-1506.10px;transform:scaleX(0.965);transform-origin:100% 0">3.3</span></div>
<div class="row lt" style="top:2333.12px"><span style="right:-1134.00px;transform:scaleX(0.965);transform-origin:100% 0">131</span><span style="left:1158.05px;transform:scaleX(0.9608);transform-origin:0 0">Armenia</span><span style="right:-1473.30px;transform:scaleX(0.9532);transform-origin:100% 0">.................................</span><span style="right:-1506.10px;transform:scaleX(0.965);transform-origin:100% 0">3.2</span></div>
<div class="row lt" style="top:2365.97px"><span style="right:-1134.00px;transform:scaleX(0.965);transform-origin:100% 0">132</span><span style="left:1158.06px;transform:scaleX(0.9450);transform-origin:0 0">Russian Federation</span><span style="right:-1473.30px;transform:scaleX(0.9532);transform-origin:100% 0">................</span><span style="right:-1506.10px;transform:scaleX(0.965);transform-origin:100% 0">3.2</span></div>
<div class="row lt" style="top:2398.82px"><span style="right:-1134.00px;transform:scaleX(0.965);transform-origin:100% 0">133</span><span style="left:1158.05px;transform:scaleX(0.9528);transform-origin:0 0">Timor-Leste</span><span style="right:-1473.30px;transform:scaleX(0.9532);transform-origin:100% 0">............................</span><span style="right:-1506.10px;transform:scaleX(0.965);transform-origin:100% 0">3.1</span></div>
<div class="row lt" style="top:2431.67px"><span style="right:-1134.00px;transform:scaleX(0.965);transform-origin:100% 0">134</span><span style="left:1158.01px;transform:scaleX(0.9708);transform-origin:0 0">Mongolia</span><span style="right:-1473.30px;transform:scaleX(0.9532);transform-origin:100% 0">................................</span><span style="right:-1506.10px;transform:scaleX(0.965);transform-origin:100% 0">3.1</span></div>
<div class="row lt" style="top:2464.52px"><span style="right:-1134.00px;transform:scaleX(0.965);transform-origin:100% 0">135</span><span style="left:1158.06px;transform:scaleX(0.9427);transform-origin:0 0">Bolivia</span><span style="right:-1473.30px;transform:scaleX(0.9532);transform-origin:100% 0">....................................</span><span style="right:-1506.10px;transform:scaleX(0.965);transform-origin:100% 0">3.0</span></div>
<div class="row lt" style="top:2497.37px"><span style="right:-1134.00px;transform:scaleX(0.965);transform-origin:100% 0">136</span><span style="left:1158.06px;transform:scaleX(0.9433);transform-origin:0 0">Kyrgyz Republic</span><span style="right:-1473.30px;transform:scaleX(0.9532);transform-origin:100% 0">.....................</span><span style="right:-1506.10px;transform:scaleX(0.965);transform-origin:100% 0">3.0</span></div>
<div class="row lt" style="top:2530.22px"><span style="right:-1134.00px;transform:scaleX(0.965);transform-origin:100% 0">137</span><span style="left:1158.08px;transform:scaleX(0.9235);transform-origin:0 0">Serbia</span><span style="right:-1473.30px;transform:scaleX(0.9532);transform-origin:100% 0">....................................</span><span style="right:-1506.10px;transform:scaleX(0.965);transform-origin:100% 0">2.9</span></div>
<div class="row lt" style="top:2563.07px"><span style="right:-1134.00px;transform:scaleX(0.965);transform-origin:100% 0">138</span><span style="left:1158.04px;transform:scaleX(0.9552);transform-origin:0 0">Ukraine</span><span style="right:-1473.30px;transform:scaleX(0.9532);transform-origin:100% 0">..................................</span><span style="right:-1506.10px;transform:scaleX(0.965);transform-origin:100% 0">2.8</span></div>
<div class="row lt" style="top:2595.92px"><span style="right:-1134.00px;transform:scaleX(0.965);transform-origin:100% 0">139</span><span style="left:1158.07px;transform:scaleX(0.9401);transform-origin:0 0">Bosnia and Herzegovina</span><span style="right:-1473.30px;transform:scaleX(0.9532);transform-origin:100% 0">........</span><span style="right:-1506.10px;transform:scaleX(0.965);transform-origin:100% 0">2.7</span></div>
<div class="b" style="left:1045px;top:327px;width:2px;height:2335.5px;background:#123c90"></div>
<span class="t" style="top:2708.77px;font-size:22.6px;line-height:22.6px;color:#111;font-weight:bold;left:247.91px;transform:scale(0.7192,1.0);transform-origin:0 84.65%;-webkit-text-stroke:0.35px #111;">SOURCE:</span>
<span class="t" style="top:2707.18px;font-size:24.6px;line-height:24.6px;color:#0a0a0a;left:340.78px;transform:scale(0.9828,1.0);transform-origin:0 84.65%;-webkit-text-stroke:0.36px #fff;">World&nbsp;Economic&nbsp;Forum,&nbsp;Executive&nbsp;Opinion&nbsp;Survey</span>
<span class="t" style="top:2814.94px;font-size:27.6px;line-height:27.6px;color:#000;left:569.85px;transform:scale(0.9999,1.025);transform-origin:0 84.65%;">The&nbsp;Global&nbsp;Competitiveness&nbsp;Report&nbsp;2010-2011&nbsp;©&nbsp;2010&nbsp;World&nbsp;Economic&nbsp;Forum</span>
<div class="b" style="left:1924px;top:1327px;width:77.5px;height:3px;background:linear-gradient(to bottom,#a9b4cc 0,#a9b4cc 1px,#1c3468 1px,#1c3468 2px,#d0d6e3 2px,#d0d6e3 3px)"></div>
<div class="b" style="left:1924px;top:1391px;width:77.5px;height:2px;background:#3a4f7f"></div>
<span class="t" style="top:1344.22px;font-size:34.0px;line-height:34.0px;color:#000;font-weight:bold;left:1923.46px;transform:scale(0.876,1.0);transform-origin:0 84.65%;-webkit-text-stroke:0.5px #000;">385</span>
<span class="t" style="left:1947.2px;top:610.58px;font-size:32px;line-height:32px;color:#17448f;transform-origin:0 0;transform:rotate(-90deg) scaleX(0.8614);-webkit-text-stroke:0.45px #fff;"><span style="position:relative;top:-27.09px;display:inline-block">2.2:&nbsp;Data&nbsp;Tables</span></span>
<span class="t" style="left:1947.2px;top:375.23px;font-size:32px;line-height:32px;color:#17448f;transform-origin:0 0;transform:rotate(-90deg) scaleX(0.8560);-webkit-text-stroke:0.45px #fff;"><span style="position:relative;top:-27.09px;display:inline-block">Section&nbsp;I:&nbsp;Institutions</span></span>
<div class="b" style="left:1923px;top:397.1px;width:30.6px;height:2.3px;background:#111"></div>
</div></body></html>
